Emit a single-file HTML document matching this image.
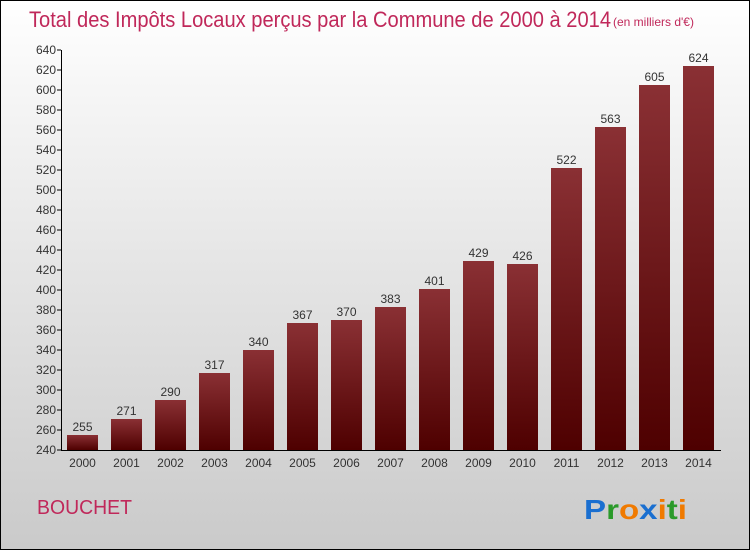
<!DOCTYPE html>
<html><head><meta charset="utf-8"><style>
body{margin:0}
#c{position:relative;width:748px;height:548px;border:1px solid #000;background:linear-gradient(#fff,#f4f4f4 20%,#cacaca);font-family:"Liberation Sans",sans-serif;overflow:hidden}
</style></head><body>
<div id="c">
<svg width="748" height="548">
<defs><linearGradient id="g" x1="0" y1="0" x2="0" y2="1"><stop offset="0" stop-color="#8a3034"/><stop offset="1" stop-color="#4e0000"/></linearGradient></defs>
<text x="28" y="26" font-size="22" fill="#c0285a" textLength="582" lengthAdjust="spacingAndGlyphs">Total des Impôts Locaux perçus par la Commune de 2000 à 2014</text>
<text x="612" y="25" font-size="12" fill="#c0285a">(en milliers d'€)</text>
<g id="plot"></g>
<text x="36" y="513" font-size="20" fill="#c0285a" textLength="95" lengthAdjust="spacingAndGlyphs">BOUCHET</text>
<g font-size="28" font-weight="bold" font-family="Liberation Sans,sans-serif">
<text x="583" y="518" textLength="103" lengthAdjust="spacingAndGlyphs"><tspan fill="#1a6fd0">P</tspan><tspan fill="#2a9a2a">r</tspan><tspan fill="#f07a00">o</tspan><tspan fill="#1a6fd0">x</tspan><tspan fill="#f07a00">i</tspan><tspan fill="#2a9a2a">t</tspan><tspan fill="#f07a00">i</tspan></text></g>
</svg></div>
<script>
const years=["2000","2001","2002","2003","2004","2005","2006","2007","2008","2009","2010","2011","2012","2013","2014"];
const values=[255,271,290,317,340,367,370,383,401,429,426,522,563,605,624];
const ticks=[240,260,280,300,320,340,360,380,400,420,440,460,480,500,520,540,560,580,600,620,640];
const NS="http://www.w3.org/2000/svg";
const g=document.getElementById('plot');
const y=v=>449-(v-240);
const x=i=>81.5+i*44;
function mk(t,a){const e=document.createElementNS(NS,t);for(const k in a)e.setAttribute(k,a[k]);g.appendChild(e);return e;}
ticks.forEach(t=>{
 const l=mk('line',{x1:56,x2:60,y1:y(t),y2:y(t),stroke:'#000'});
 
 
 const tx=mk('text',{x:55,y:y(t)+4,'font-size':12,fill:'#333','text-anchor':'end'});tx.textContent=t;
 
 
});
values.forEach((v,i)=>{
 const r=mk('rect',{x:x(i)-15.5,y:y(v),width:31,height:y(240)-y(v),fill:'url(#g)'});
 
 
 const t=mk('text',{x:x(i),y:y(v)-4,'font-size':12,fill:'#333','text-anchor':'middle'});t.textContent=v;
 
 
 const xl=mk('text',{x:x(i),y:466,'font-size':12,fill:'#333','text-anchor':'middle'});xl.textContent=years[i];
 
 
});
const ya=mk('line',{x1:60.5,x2:60.5,y1:y(640),y2:y(240),stroke:'#000'});


const xa=mk('line',{x1:60,x2:720,y1:y(240)+.5,y2:y(240)+.5,stroke:'#000'});


</script>
</body></html>
